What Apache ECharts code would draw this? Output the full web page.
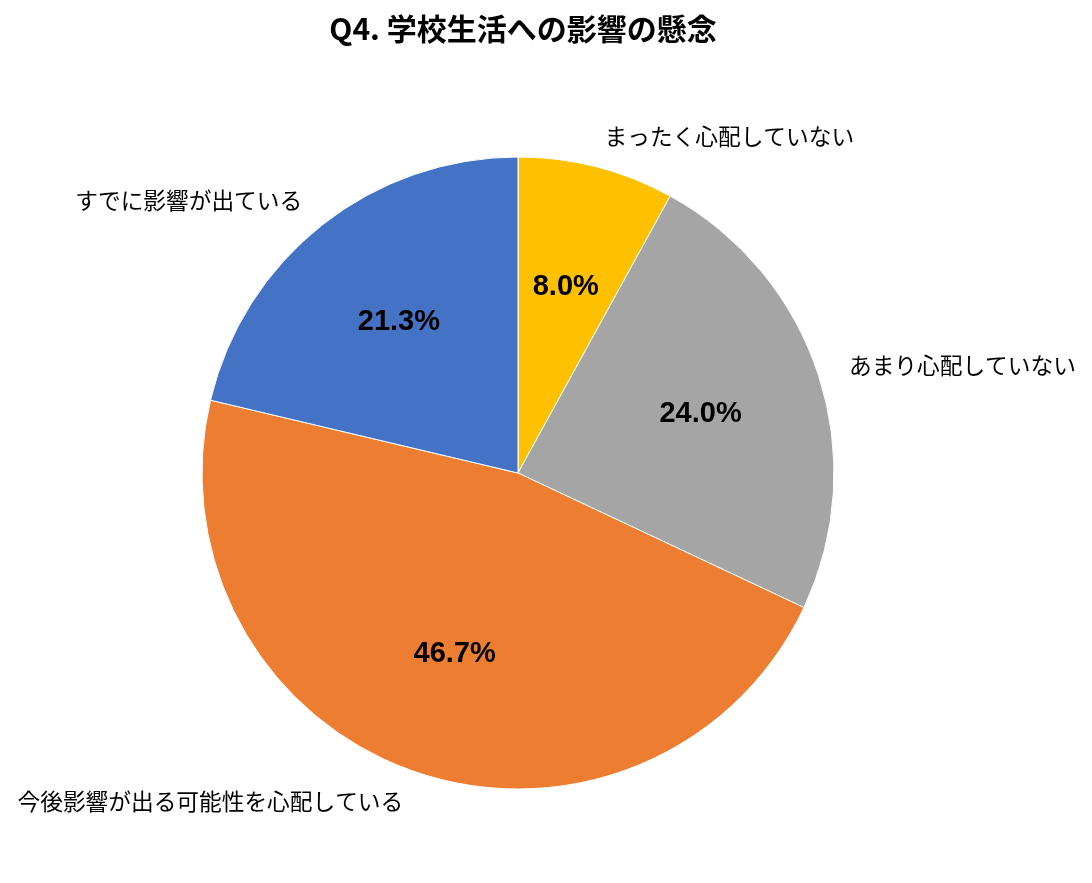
<!DOCTYPE html>
<html>
<head>
<meta charset="utf-8">
<script src="https://cdn.jsdelivr.net/npm/echarts@6/dist/echarts.min.js"></script>
<style>html,body{margin:0;padding:0;background:#fff}#c{width:1092px;height:883px}</style>
</head>
<body>
<div id="c"></div>
<script>
const titleText = 'Q4. 学校生活への影響の懸念';
const categories = ['まったく心配していない', 'あまり心配していない', '今後影響が出る可能性を心配している', 'すでに影響が出ている'];
const values = [8.0, 24.0, 46.7, 21.3];
const colors = ['#FFC000', '#A5A5A5', '#ED7D31', '#4472C4'];

const chart = echarts.init(document.getElementById('c'));
const mainData = categories.map((n, i) => ({ name: n, value: values[i], itemStyle: { color: colors[i] } }));
const labelData = categories.map((n, i) => ({ name: n, value: values[i] }));
chart.setOption({
  animation: false,
  title: {
    text: titleText,
    left: 518, top: 9, textAlign: 'center',
    textStyle: { fontFamily: 'Noto Sans CJK JP', fontWeight: 'bold', fontSize: 30, color: '#000' }
  },
  series: [
    {
      type: 'pie',
      center: [518, 473],
      radius: [0, 316],
      startAngle: 90,
      clockwise: true,
      silent: true,
      itemStyle: { borderColor: '#fff', borderWidth: 1 },
      label: {
        show: true, position: 'outside', distanceToLabelLine: 0,
        formatter: '{b}',
        fontFamily: 'Noto Sans CJK JP', fontSize: 22.7, color: '#000'
      },
      labelLine: { show: false, length: 32, length2: 0 },
      data: mainData
    },
    {
      type: 'pie',
      center: [518, 473],
      radius: [0, 378],
      startAngle: 90,
      clockwise: true,
      silent: true,
      itemStyle: { color: 'rgba(0,0,0,0)', borderWidth: 0 },
      label: {
        show: true, position: 'inside',
        formatter: p => p.value.toFixed(1) + '%',
        fontFamily: 'Liberation Sans', fontWeight: 'bold', fontSize: 29, color: '#000'
      },
      labelLine: { show: false },
      data: labelData
    }
  ]
});
</script>
</body>
</html>
